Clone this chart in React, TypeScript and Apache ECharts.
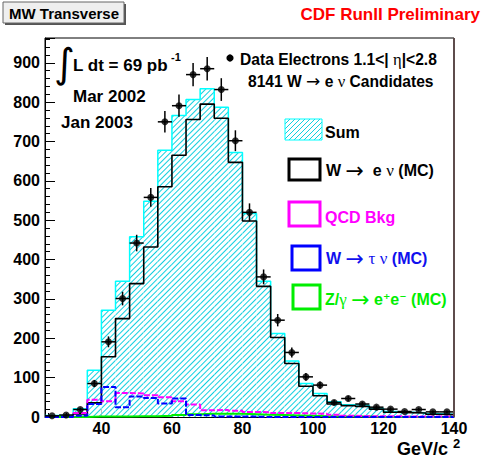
import React, { useEffect, useRef } from "react";
import * as echarts from "echarts";

// ---- data ----
const binLowEdges = [24, 28, 32, 36, 40, 44, 48, 52, 56, 60, 64, 68, 72, 76, 80, 84, 88, 92, 96, 100, 104, 108, 112, 116, 120, 124, 128, 132, 136];
const binWidth = 4;
const xMin = 24;
const xMax = 140;
const yMax = 963;
const dataCounts = [3, 5, 19, 85, 191, 301, 442, 558, 750, 791, 870, 885, 832, 702, 520, 356, 246, 164, 102, 81, 37, 47, 33, 25, 20, 14, 19, 13, 13];
const sumMC = [4, 5, 21, 119, 271, 345, 458, 548, 678, 766, 807, 834, 787, 672, 517, 345, 212, 142, 85, 60, 39, 31, 30, 22, 14, 12, 11, 8, 7];
const wenuMC = [1, 2, 8, 36, 153, 250, 339, 432, 585, 665, 756, 795, 759, 647, 498, 332, 202, 136, 78, 54, 33, 29, 27, 20, 12, 11, 10, 7, 6];
const qcdBkg = [0, 0, 10, 44, 40, 61, 60, 55, 50, 40, 32, 17, 18, 16, 13, 12, 10, 10, 9, 8, 6, 3, 2, 2, 2, 1, 1, 1, 1];
const wtaunuMC = [0, 0, 3, 33, 76, 25, 52, 48, 34, 47, 5, 4, 1, 1, 1, 0, 0, 0, 0, 0, 0, 0, 0, 0, 0, 0, 0, 0, 0];
const zeeMC = [0, 0, 0, 1, 1, 1, 2, 2, 3, 5, 7, 8, 8, 8, 7, 6, 5, 4, 3, 2, 1, 1, 1, 0, 0, 0, 0, 0, 0];
const xMajorTicks = [40, 60, 80, 100, 120, 140];
const xMinorTicks = [25, 30, 35, 45, 50, 55, 65, 70, 75, 85, 90, 95, 105, 110, 115, 125, 130, 135];

const FONT = "Liberation Sans";
const CYAN = "#00ffff";
const HATCH = "#10cfe0";

function stepData(values: number[]) {
  const pts: number[][] = binLowEdges.map((x, i) => [x, values[i]]);
  pts.push([xMax, values[values.length - 1]]);
  return pts;
}

function txt(x: number, y: number, text: string, opts: any = {}) {
  const align = opts.align || "left";
  return {
    type: "text",
    x,
    y,
    z: 100,
    style: {
      text,
      fontFamily: opts.fontFamily || FONT,
      fontWeight: opts.fontWeight || "bold",
      fontSize: opts.fontSize || 16,
      fill: opts.fill || "#000",
      align,
      verticalAlign: "middle",
      textAlign: align,
      textVerticalAlign: "middle",
      rich: opts.rich,
    },
  };
}

function hatchBox(x0: number, y0: number, w: number, h: number, step: number) {
  const els: any[] = [];
  for (let c = x0 + y0 + step; c < x0 + w + y0 + h; c += step) {
    const xa = Math.max(x0, c - (y0 + h));
    const xb = Math.min(x0 + w, c - y0);
    els.push({
      type: "line",
      z: 100,
      shape: { x1: xa, y1: c - xa, x2: xb, y2: c - xb },
      style: { stroke: HATCH, lineWidth: 1 },
    });
  }
  els.push({
    type: "rect",
    z: 100,
    shape: { x: x0, y: y0, width: w, height: h },
    style: { fill: "none", stroke: CYAN, lineWidth: 1 },
  });
  return els;
}

function box(x: number, y: number, w: number, h: number, color: string) {
  return {
    type: "rect",
    z: 100,
    shape: { x, y, width: w, height: h },
    style: { fill: "#fff", stroke: color, lineWidth: 3 },
  };
}

function greekRich(fill: string, size: number, arrowSize: number) {
  return {
    g: { fontFamily: "Liberation Serif", fontWeight: "normal", fontSize: size + 1, fill },
    a: { fontFamily: "DejaVu Sans", fontWeight: "normal", fontSize: arrowSize, fill },
    s: { fontFamily: "DejaVu Sans", fontWeight: "bold", fontSize: size - 2, fill },
  };
}

export default function App() {
  const ref = useRef<HTMLDivElement>(null);
  useEffect(() => {
    if (!ref.current) return;
    const chart = echarts.init(ref.current, undefined, { renderer: "svg" });
    const errData = dataCounts.map((v, i) => [binLowEdges[i] + binWidth / 2, v, Math.sqrt(v)]);
    const ptData = dataCounts.map((v, i) => [binLowEdges[i] + binWidth / 2, v]);
    const catData = binLowEdges.map((x) => String(x));

    const option: any = {
      animation: false,
      backgroundColor: "#fff",
      textStyle: { fontFamily: FONT },
      grid: { left: 45, top: 38, width: 409, height: 379, show: true, borderColor: "#000", borderWidth: 1, backgroundColor: "#fff" },
      xAxis: [
        {
          type: "value",
          min: xMin,
          max: xMax,
          position: "bottom",
          axisLine: { show: true, lineStyle: { color: "#000", width: 1 } },
          axisTick: { show: true, inside: true, length: 8, customValues: xMajorTicks, lineStyle: { color: "#000" } },
          axisLabel: { customValues: xMajorTicks, fontSize: 16, fontWeight: "bold", color: "#000", fontFamily: FONT, margin: 3 },
          splitLine: { show: false },
        },
        {
          type: "value",
          min: xMin,
          max: xMax,
          position: "bottom",
          axisLine: { show: false },
          axisTick: { show: true, inside: true, length: 4, customValues: xMinorTicks, lineStyle: { color: "#000" } },
          axisLabel: { show: false },
          splitLine: { show: false },
        },
        {
          type: "category",
          data: catData,
          show: false,
          position: "bottom",
        },
      ],
      yAxis: [
        {
          type: "value",
          min: 0,
          max: yMax,
          interval: 100,
          axisLine: { show: true, lineStyle: { color: "#000", width: 1 } },
          axisTick: { show: true, inside: true, length: 10, lineStyle: { color: "#000" } },
          minorTick: { show: true, splitNumber: 5, length: 5, lineStyle: { color: "#000" } },
          axisLabel: {
            fontSize: 16,
            fontWeight: "bold",
            color: "#000",
            fontFamily: FONT,
            margin: 5,
            showMaxLabel: false,
            formatter: (v: number) => (v % 100 === 0 && v <= 900 ? String(v) : ""),
          },
          splitLine: { show: false },
        },
      ],
      series: [
        {
          name: "Sum",
          type: "bar",
          xAxisIndex: 2,
          yAxisIndex: 0,
          data: sumMC,
          barCategoryGap: "0%",
          silent: true,
          z: 1,
          itemStyle: {
            color: "#fff",
            decal: {
              symbol: "rect",
              symbolSize: 1,
              color: HATCH,
              dashArrayX: [1, 0],
              dashArrayY: [1, 3],
              rotation: -Math.PI / 4,
            },
          },
        },
        {
          name: "SumLine",
          type: "line",
          step: "end",
          xAxisIndex: 0,
          data: stepData(sumMC),
          symbol: "none",
          z: 2,
          lineStyle: { color: CYAN, width: 1.5 },
        },
        {
          name: "Wenu",
          type: "line",
          step: "end",
          xAxisIndex: 0,
          data: stepData(wenuMC),
          symbol: "none",
          z: 3,
          lineStyle: { color: "#000", width: 1.6 },
        },
        {
          name: "Zee",
          type: "line",
          step: "end",
          xAxisIndex: 0,
          data: stepData(zeeMC),
          symbol: "none",
          z: 3,
          lineStyle: { color: "#00ee00", width: 2 },
        },
        {
          name: "QCD",
          type: "line",
          step: "end",
          xAxisIndex: 0,
          data: stepData(qcdBkg),
          symbol: "none",
          z: 4,
          lineStyle: { color: "#ff00ff", width: 2, type: [6, 2] },
        },
        {
          name: "Wtaunu",
          type: "line",
          step: "end",
          xAxisIndex: 0,
          data: stepData(wtaunuMC),
          symbol: "none",
          z: 4,
          lineStyle: { color: "#0000ff", width: 2, type: [6, 2] },
        },
        {
          name: "DataErr",
          type: "custom",
          xAxisIndex: 0,
          yAxisIndex: 0,
          data: errData,
          z: 5,
          silent: true,
          renderItem: (_params: any, api: any) => {
            const x = api.value(0);
            const y = api.value(1);
            const e = api.value(2);
            const hw = binWidth / 2;
            const p0 = api.coord([x - hw, y]);
            const p1 = api.coord([x + hw, y]);
            const t = api.coord([x, y + e]);
            const b = api.coord([x, Math.max(0, y - e)]);
            return {
              type: "group",
              children: [
                { type: "line", shape: { x1: p0[0], y1: p0[1], x2: p1[0], y2: p1[1] }, style: { stroke: "#000", lineWidth: 1.5 } },
                { type: "line", shape: { x1: t[0], y1: t[1], x2: b[0], y2: b[1] }, style: { stroke: "#000", lineWidth: 1.5 } },
              ],
            };
          },
        },
        {
          name: "Data",
          type: "scatter",
          xAxisIndex: 0,
          yAxisIndex: 0,
          data: ptData,
          symbol: "circle",
          symbolSize: 7,
          z: 6,
          itemStyle: { color: "#000" },
        },
      ],
      graphic: [
        // right frame edge
        { type: "line", z: 90, shape: { x1: 454, y1: 38, x2: 454, y2: 417 }, style: { stroke: "#5e4c4c", lineWidth: 2 } },
        // title box
        { type: "rect", z: 100, shape: { x: 5, y: 4, width: 121, height: 21 }, style: { fill: "#555", stroke: "none" } },
        { type: "rect", z: 101, shape: { x: 3, y: 2, width: 121, height: 21 }, style: { fill: "#efefef", stroke: "#666", lineWidth: 1 } },
        { ...txt(9, 13, "MW Transverse", { fontSize: 15 }), z: 102 },
        txt(480, 14, "CDF RunII Preliminary", { fontSize: 17, fill: "#ff0000", align: "right" }),
        // integrated luminosity
        txt(54, 63, "∫", { fontSize: 40, fontFamily: "DejaVu Sans", fontWeight: "normal" }),
        txt(73, 65, "L dt = 69 pb", { fontSize: 17 }),
        txt(171, 57, "-1", { fontSize: 11 }),
        txt(73, 96, "Mar 2002", { fontSize: 17 }),
        txt(61, 122, "Jan 2003", { fontSize: 17 }),
        // data legend
        { type: "circle", z: 100, shape: { cx: 230, cy: 58, r: 3.6 }, style: { fill: "#000" } },
        txt(240, 59, "Data Electrons 1.1<| {g|η}|<2.8", { fontSize: 15.6, rich: greekRich("#000", 15.6, 17) }),
        txt(248, 81, "8141 W {a|→} e {g|ν} Candidates", { fontSize: 15.6, rich: greekRich("#000", 15.6, 17) }),
        // MC legend
        ...hatchBox(285, 119, 37, 21, 5),
        txt(325, 132, "Sum", { fontSize: 16 }),
        box(289, 159, 31, 21, "#000"),
        txt(326, 170, "W {a|→}  e {g|ν} (MC)", { fontSize: 16, rich: greekRich("#000", 16, 22) }),
        box(289, 202, 31, 24, "#ff00ff"),
        txt(325, 217, "QCD Bkg", { fontSize: 16, fill: "#ff00ff" }),
        box(292, 246, 28, 24, "#0000ff"),
        txt(326, 258, "W {a|→} {g|τ} {g|ν} (MC)", { fontSize: 16, fill: "#1010ee", rich: greekRich("#1010ee", 16, 22) }),
        box(293, 285, 27, 24, "#00ee00"),
        txt(325, 299, "Z/{g|γ} {a|→} e{s|⁺}e{s|⁻} (MC)", { fontSize: 16, fill: "#00ee00", rich: greekRich("#00ee00", 16, 22) }),
        // x axis title
        txt(397, 449, "GeV/c", { fontSize: 18 }),
        txt(453, 443, "2", { fontSize: 13 }),
      ],
    };
    chart.setOption(option);
    return () => chart.dispose();
  }, []);
  return <div ref={ref} style={{ position: "fixed", left: 0, top: 0, width: 481, height: 460 }} />;
}
